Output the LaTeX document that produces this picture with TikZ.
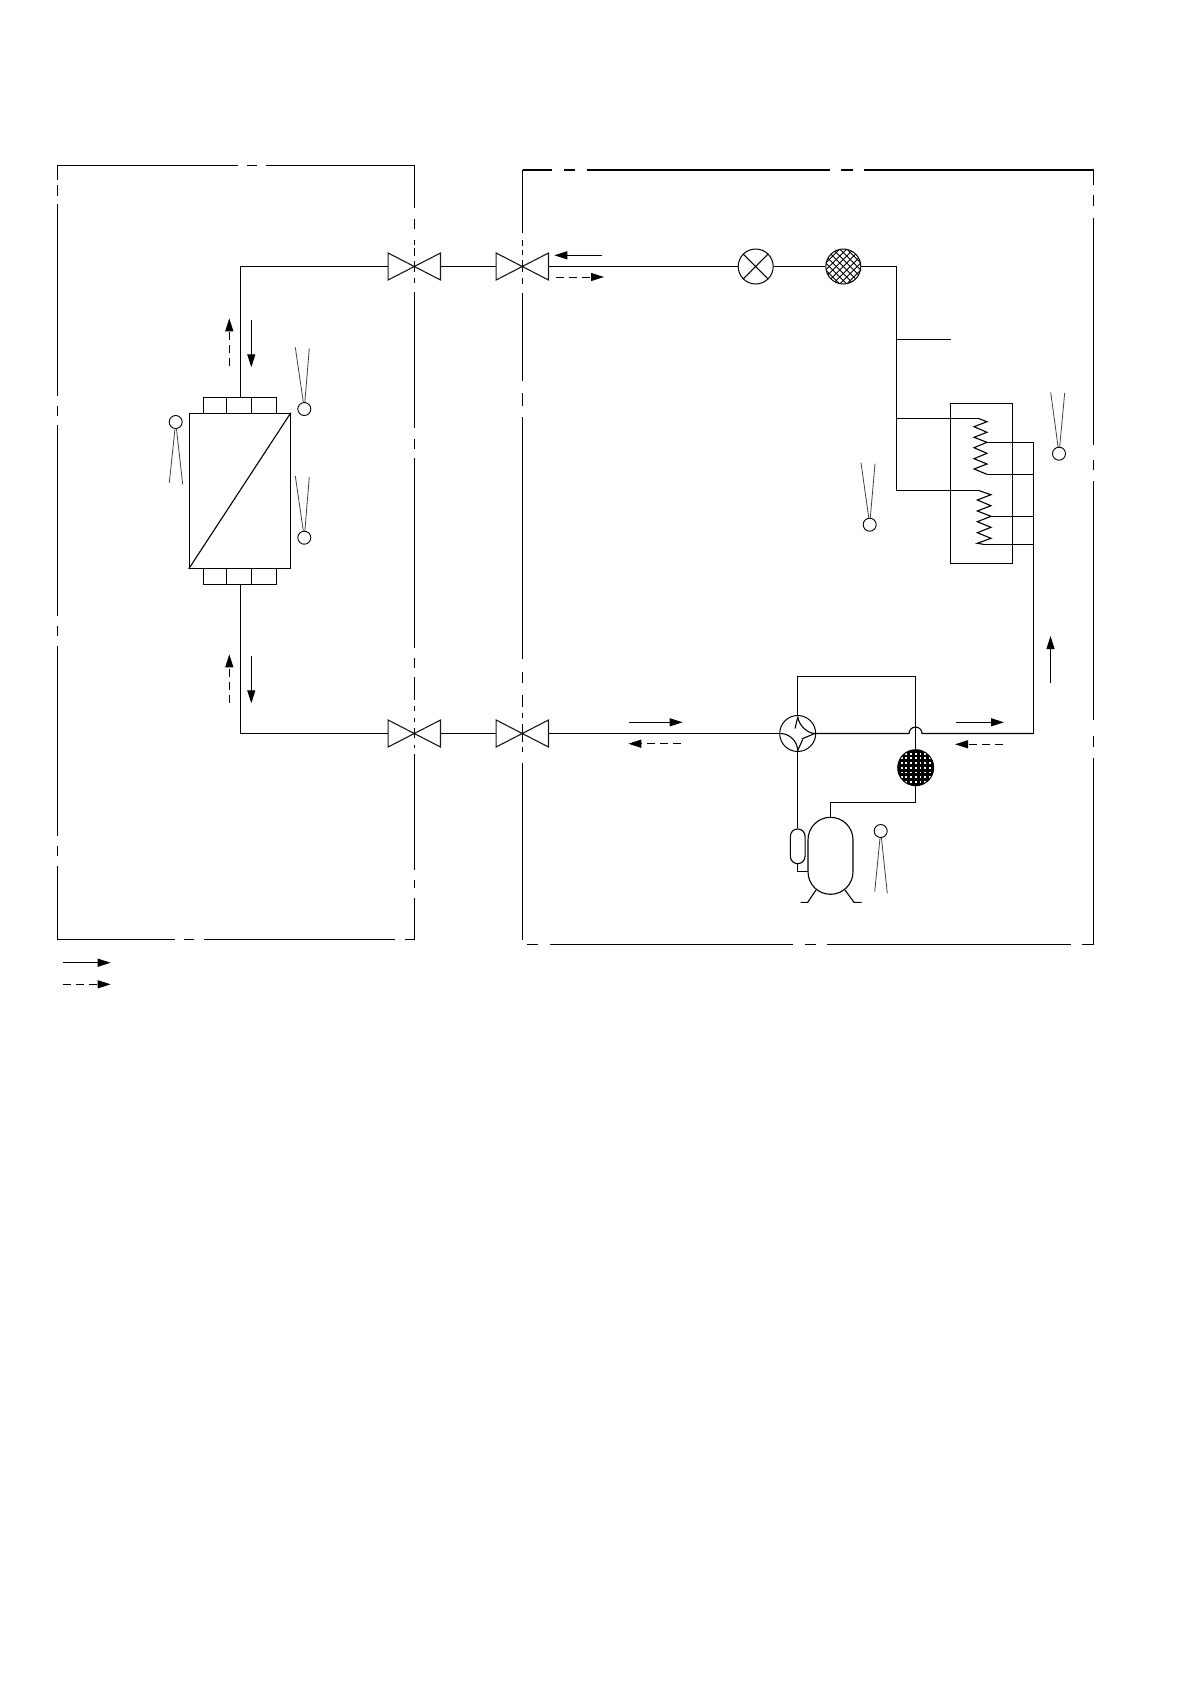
\documentclass[tikz,border=0pt]{standalone}
\usepackage{amsmath}
\usepackage{xcolor}
\usetikzlibrary{arrows.meta}
\tikzset{
	pipe/.style={black,line width=1.1pt},
	border/.style={black,line width=1.1pt},
	probe/.style={black!75,line width=0.8pt},
	sensor/.style={circle,draw=black,line width=0.9pt,minimum size=13pt,inner sep=0pt},
	unit/.style={circle,draw=black,line width=1pt,minimum size=35pt,inner sep=0pt},
	valvebox/.style={minimum width=52pt,minimum height=26.6pt,inner sep=0pt},
	box/.style={draw=black,line width=1.1pt,inner sep=0pt},
	flow/.style={black,line width=1pt,-{Triangle[length=13pt,width=8pt]}},
	flowback/.style={flow,dash pattern=on 8pt off 5pt},
}
\begin{document}
\begin{tikzpicture} [x=1pt,y=-1pt]
	\useasboundingbox (0,0) rectangle (1190,1684);

	% left and right enclosures
	\draw [border] (57.3,180)--(57.3,165.5)--(238,165.5);
	\draw [border] (266,165.5)--(414.5,165.5)--(414.5,208);
	\draw [border] (247,165.5)--(257,165.5);
	\foreach \a/\b in {185/196,204/395.6,406/416,425/616,626/636,646/836,846/856}
		\draw [border] (57.3,\a)--(57.3,\b);
	\draw [border] (57.3,866)--(57.3,939.5)--(175,939.5);
	\draw [border] (184,939.5)--(194,939.5);
	\draw [border] (204,939.5)--(395,939.5);
	\draw [border] (405,939.5)--(414.5,939.5)--(414.5,898);
	\foreach \a/\b in {219/229,240/245,248/256,261/272,278/283,292/428,439/449,458/648,658/668,677/700,706/711,718/722,728/738,745/748,754/870,880/888}
		\draw [border] (414.5,\a)--(414.5,\b);

	\draw [border,line width=1.9pt] (552,170)--(522.5,170);
	\draw [border] (522.5,169.5)--(522.5,233);
	\draw [border,line width=1.9pt] (564,170)--(575,170);
	\draw [border,line width=1.9pt] (587,170)--(830,170);
	\draw [border,line width=1.9pt] (841,170)--(853,170);
	\draw [border,line width=1.9pt] (864,170)--(1093.7,170);
	\draw [border] (1093.7,169.5)--(1093.7,185);
	\foreach \a/\b in {195/206,218/445,460/470,481/720,736/747}
		\draw [border] (1093.7,\a)--(1093.7,\b);
	\draw [border] (1093.7,758)--(1093.7,944.5)--(1082,944.5);
	\foreach \a/\b in {527/538,550/793,805/816,827/1071}
		\draw [border] (\a,944.5)--(\b,944.5);
	\foreach \a/\b in {240/246,250/255,260/272,278/284,293/381,393/406,417/659,672/683,695/707,713/718,724/742,747/752,763/940}
		\draw [border] (522.5,\a)--(522.5,\b);

	% components
	\node [valvebox] (valveA) at (414.3,266.5) {};
	\node [valvebox] (valveB) at (522.3,266.5) {};
	\node [valvebox] (valveC) at (414.3,733.5) {};
	\node [valvebox] (valveD) at (522.3,733.5) {};
	\foreach \v in {valveA,valveB,valveC,valveD}
		\draw [black!90,line width=1.1pt] (\v.north west)--(\v.south east)--(\v.north east)--(\v.south west)--cycle;

	\begin{scope}
		\clip (843.3,266.5) circle (17.5);
		\begin{scope}[shift={(843.3,266.5)}]
			\foreach \d in {-42,-35,...,42} {
				\draw [black,line width=0.8pt] ({\d-20},-20)--({\d+20},20);
				\draw [black,line width=0.8pt] ({\d-20},20)--({\d+20},-20);
			}
		\end{scope}
	\end{scope}
	\begin{scope}
		\clip (915.7,767.7) circle (18);
		\fill [black] (915.7,767.7) circle (18);
		\begin{scope}[shift={(915.7,767.7)}]
			\foreach \i in {-4,...,4}
				\foreach \j in {-4,...,4}
					\fill [white] ({\i*4.7-0.9},{\j*4.7-0.9}) rectangle ++(1.8,1.8);
		\end{scope}
	\end{scope}

	\node [unit] (expansion) at (755.7,266.5) {};
	\node [unit] (filter) at (843.3,266.5) {};
	\node [unit,minimum size=36pt] (reverser) at (797.7,733.5) {};
	\node [unit,minimum size=36pt] (accum) at (915.7,767.7) {};
	\draw [pipe] (expansion.north west)--(expansion.south east);
	\draw [pipe] (expansion.north east)--(expansion.south west);

	\begin{scope}[shift={(reverser.center)}]
		\draw [pipe] (0,-17) .. controls (1,-8) and (10,0) .. (17.3,0);
		\draw [pipe] (-17.3,0) .. controls (-8,0) and (0,8) .. (0,17.3);
		\draw [pipe] (0,-16)--(-2.7,-5);
		\draw [pipe] (17,0)--(4,5.5);
		\draw [pipe] (0,17)--(5,6);
	\end{scope}

	\node [box,minimum width=101pt,minimum height=155pt] (exchanger) at (239.8,490.8) {};
	\draw [pipe] (exchanger.south west)--(exchanger.north east);
	\node [box,minimum width=23pt,minimum height=16pt] (capA) at (214.8,405.3) {};
	\node [box,minimum width=25pt,minimum height=16pt] (capB) at (238.8,405.3) {};
	\node [box,minimum width=25pt,minimum height=16pt] (capC) at (263.8,405.3) {};
	\node [box,minimum width=23pt,minimum height=16pt] (capD) at (214.8,576.3) {};
	\node [box,minimum width=25pt,minimum height=16pt] (capE) at (238.8,576.3) {};
	\node [box,minimum width=25pt,minimum height=16pt] (capF) at (263.8,576.3) {};

	\node [box,minimum width=62pt,minimum height=160pt] (coilbox) at (981.3,483.3) {};
	\node [box,rounded corners=22.5pt,minimum width=45pt,minimum height=77pt] (compressor) at (830.5,855.8) {};
	\node [box,rounded corners=7.3pt,minimum width=14.7pt,minimum height=34.7pt] (receiver) at (797.7,846.3) {};

	% coils
	\coordinate (coilAin) at (978,418.3);
	\coordinate (coilAmid) at (987,442.3);
	\coordinate (coilAout) at (987,474.3);
	\coordinate (coilBin) at (978,490.3);
	\coordinate (coilBmid) at (991,516.3);
	\coordinate (coilBout) at (983.3,544.3);
	\coordinate (busTop) at (1033.5,442.3);
	\draw [pipe] (coilAin)--(987,421.7)--(974,426.7)--(987,432.3)--(974,437.3)--(coilAmid)--(974,447.7)--(987,453.3)--(974,458.7)--(987,464)--(974,469)--(coilAout);
	\draw [pipe] (coilBin)--(991,494.7)--(977.3,500)--(991,505.7)--(977.3,511)--(coilBmid)--(977.3,521.7)--(991,527.3)--(977.3,532.7)--(991,538.3)--(977.3,543.3)--(coilBout);

	% pipes
	\coordinate (corner) at (1033.5,733.5);
	\coordinate (compressorIn) at (808,871.3);
	\draw [pipe] (capB.north) ++(1.5,0) |- (valveA.west);
	\draw [pipe] (capE.south) ++(1.5,0) |- (valveC.west);
	\draw [pipe] (valveA.east)--(valveB.west);
	\draw [pipe] (valveC.east)--(valveD.west);
	\draw [pipe] (valveB.east)--(expansion);
	\draw [pipe] (expansion)--(filter);
	\draw [pipe] (valveD.east)--(reverser);
	\draw [pipe] (filter.east)--(896.3,266.5)--(896.3,490.3)--(coilBin);
	\draw [pipe] (896.3,339.3)--(950.7,339.3);
	\draw [pipe] (896.3,418.3)--(coilAin);
	\draw [pipe] (coilAmid)--(busTop);
	\draw [pipe] (coilAout)--(1033.5,474.3);
	\draw [pipe] (coilBmid)--(1033.5,516.3);
	\draw [pipe] (coilBout)--(1033.5,544.3);
	\draw [pipe] (busTop)--(corner);
	\draw [pipe] (reverser.east)--(909,733.5) arc (180:360:6.5)--(corner);
	\draw [pipe] (reverser.north)--(797.7,676.3)--(915.7,676.3)--(accum.north);
	\draw [pipe] (accum.south)--(915.7,802.3)--(830.5,802.3)--(compressor.north);
	\draw [pipe] (reverser.south)--(receiver.north);
	\draw [pipe] (receiver.south) |- (compressorIn);
	\draw [pipe] (816,890)--(807.7,902.3)--(800.7,902.3);
	\draw [pipe] (845,890)--(854,902.3)--(861.7,902.3);

	% temperature sensors
	\foreach \name/\cx/\cy/\ax/\ay/\bx/\by in {
		sensorA/304.3/409/295.3/347.3/309.3/348.3,
		sensorB/304.3/537.7/295.3/476/309.3/477,
		sensorC/175.7/422/169.3/482.7/182.7/484.3,
		sensorD/869.7/524.7/861/462.7/875/463.7,
		sensorE/1059/453.7/1050.7/392.3/1064.7/393,
		sensorF/880.7/831/874.7/891.7/887.3/893.3} {
		\node [sensor] (\name) at (\cx,\cy) {};
		\draw [probe] (\name)--(\ax,\ay);
		\draw [probe] (\name)--(\bx,\by);
	}

	% flow arrows
	\draw [flowback] (229.3,366)--(229.3,318.3);
	\draw [flow] (251.3,320)--(251.3,367.3);
	\draw [flowback] (229.3,702.7)--(229.3,654.3);
	\draw [flow] (251.3,656)--(251.3,703.3);
	\draw [flow] (601.7,255.3)--(554.3,255.3);
	\draw [flowback] (555.7,277)--(604,277);
	\draw [flow] (629,722.3)--(682.7,722.3);
	\draw [flowback] (681,743.7)--(628.3,743.7);
	\draw [flow] (956,722.3)--(1004,722.3);
	\draw [flowback] (1003.3,744.3)--(955,744.3);
	\draw [flow] (1050.5,683)--(1050.5,636);
	\draw [flow] (62.7,962.7)--(110.7,962.7);
	\draw [flowback] (62.7,984.3)--(110.7,984.3);
\end{tikzpicture}
\end{document}
